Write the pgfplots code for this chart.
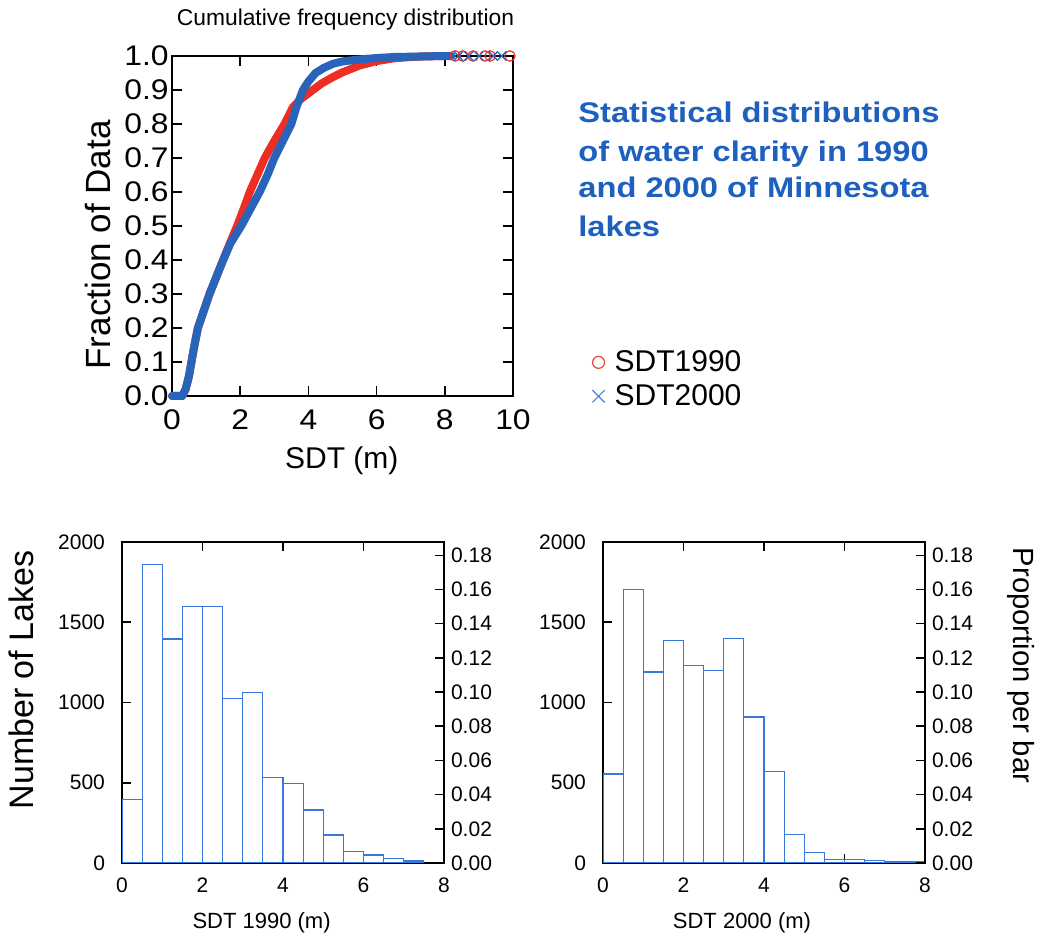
\documentclass[border=0pt]{standalone}
\usepackage{pgfplots}
\pgfplotsset{compat=1.18}
\usepackage{fontspec}
\setmainfont{Liberation Sans}
\newfontfamily\titlefont{Liberation Sans}[FakeStretch=1.15]
\newfontfamily\widefont{Liberation Sans}[FakeStretch=1.12]
\definecolor{cred}{RGB}{238,45,35}
\definecolor{cblue}{RGB}{40,100,185}
\definecolor{hblue}{RGB}{55,120,220}
\definecolor{tblue}{RGB}{30,96,192}
\definecolor{lred}{RGB}{232,70,45}
\definecolor{lblue}{RGB}{74,127,216}

\pgfplotstableread{
x y
0 0
0.3 0
0.4 0.02
0.5 0.06
0.57 0.1
0.66 0.15
0.76 0.2
0.93 0.25
1.1 0.3
1.3 0.35
1.5 0.4
1.7 0.45
1.91 0.5
2.1 0.55
2.28 0.6
2.5 0.65
2.72 0.7
3.0 0.75
3.3 0.8
3.55 0.85
3.8 0.875
4.13 0.9
4.4 0.92
4.72 0.938
5.0 0.952
5.5 0.972
6.0 0.985
6.5 0.993
7.0 0.997
7.5 0.999
8.0 1.0
}\redcdf

\pgfplotstableread{
x y
0 0
0.3 0
0.4 0.02
0.5 0.06
0.57 0.1
0.66 0.15
0.76 0.2
0.93 0.25
1.1 0.3
1.3 0.35
1.5 0.4
1.72 0.45
2.03 0.5
2.3 0.55
2.57 0.6
2.8 0.65
3.0 0.7
3.25 0.75
3.5 0.8
3.65 0.85
3.84 0.9
4.0 0.925
4.21 0.95
4.45 0.965
4.72 0.977
5.0 0.984
5.5 0.99
6.0 0.994
6.5 0.997
7.0 0.998
7.5 0.999
8.2 1.0
}\bluecdf

\pgfplotstableread{
x y
0 395
0.5 1860
1 1395
1.5 1600
2 1600
2.5 1025
3 1060
3.5 535
4 495
4.5 330
5 175
5.5 70
6 50
6.5 27
7 12
7.5 0
}\histA

\pgfplotstableread{
x y
0 555
0.5 1705
1 1190
1.5 1385
2 1230
2.5 1200
3 1400
3.5 910
4 570
4.5 178
5 65
5.5 20
6 20
6.5 15
7 10
7.5 10
8 0
}\histB

\pgfplotsset{
  common/.style={
    scale only axis,
    anchor=south west,
    tick align=inside,
    /pgf/number format/assume math mode=true,
    /pgf/number format/1000 sep={},
    axis line style={line width=0.8pt},
    tick style={black, line width=0.8pt},
  },
  histstyle/.style={
    common,
    width=161pt, height=160.5pt,
    xmin=0, xmax=8, ymin=0, ymax=2000,
    major tick length=4.5pt,
    tick label style={font=\fontsize{10.5}{12}\selectfont},
  },
  propstyle/.style={
    common,
    width=161pt, height=160.5pt,
    xmin=0, xmax=8, ymin=0, ymax=0.1878,
    axis x line=none, axis y line*=right,
    major tick length=4.5pt,
    ytick={0,0.02,0.04,0.06,0.08,0.10,0.12,0.14,0.16,0.18},
    yticklabel style={/pgf/number format/.cd,fixed,fixed zerofill,precision=2},
    tick label style={font=\fontsize{10.5}{12}\selectfont},
  },
}

\begin{document}
\begin{tikzpicture}
\useasboundingbox (0,0) rectangle (520.5pt,468.5pt);

% ---------- top CDF ----------
\begin{axis}[common,
  at={(86pt,270.5pt)},
  width=170.5pt, height=170pt,
  xmin=0, xmax=10, ymin=0, ymax=1,
  xtick={0,2,4,6,8,10},
  ytick={0,0.1,0.2,0.3,0.4,0.5,0.6,0.7,0.8,0.9,1.0},
  yticklabel style={xshift=1.8pt,/pgf/number format/.cd,fixed,fixed zerofill,precision=1},
  xticklabel style={yshift=-3.5pt},
  major tick length=5pt,
  tick label style={font=\widefont\fontsize{14.2}{16}\selectfont},
  clip=false,
  legend cell align=left,
  legend image code/.code={\draw[#1] plot coordinates {(0pt,0pt)};},
  legend style={draw=none, fill=none, inner sep=0pt,
    at={(1.232,0.049)}, anchor=west,
    font=\fontsize{15}{18}\selectfont,
    nodes={inner sep=1pt},
    row sep=3pt,
    /tikz/every odd column/.style={column sep=4pt}},
]
\addlegendimage{only marks, mark=o, mark size=3pt, lred, line width=0.6pt}
\addlegendentry{SDT1990}
\addlegendimage{only marks, mark=x, mark size=4.3pt, lblue, line width=0.6pt}
\addlegendentry{SDT2000}

\addplot[forget plot, cred, line width=4pt, line cap=round, line join=round] table[x=x,y=y] {\redcdf};
\addplot[forget plot, cblue, line width=4pt, line cap=round, line join=round] table[x=x,y=y] {\bluecdf};
\addplot[forget plot, only marks, mark=o, mark size=2.6pt, cred, line width=0.6pt] coordinates {
(8.3,1) (8.53,1) (8.83,1) (9.18,1) (9.33,1) (9.91,1)};
\addplot[forget plot, only marks, mark=x, mark size=3.2pt, cblue, line width=0.6pt] coordinates {
(8.4,1) (8.7,1) (9.0,1) (9.42,1) (9.67,1)};
\end{axis}

% ---------- bottom left histogram ----------
\begin{axis}[histstyle,
  at={(61pt,37pt)},
  xtick={0,2,4,6,8}, ytick={0,500,1000,1500,2000},
  ytick pos=left,
  yticklabel style={xshift=-5pt},
  xticklabel style={yshift=-4pt},
]
\addplot[ybar interval, draw=hblue, fill=white, line width=0.6pt] table[x=x,y=y] {\histA};
\end{axis}
\begin{axis}[propstyle, at={(61pt,37pt)}]
\end{axis}

% ---------- bottom right histogram ----------
\begin{axis}[histstyle,
  at={(301.5pt,37pt)},
  xtick={0,2,4,6,8}, ytick={0,500,1000,1500,2000},
  ytick pos=left,
  yticklabel style={xshift=-5pt},
  xticklabel style={yshift=-4pt},
]
\addplot[ybar interval, draw=hblue, fill=white, line width=0.6pt] table[x=x,y=y] {\histB};
\end{axis}
\begin{axis}[propstyle, at={(301.5pt,37pt)}]
\end{axis}

% ---------- texts ----------
\node[anchor=base, inner sep=0pt, font=\fontsize{11.4}{13}\selectfont] at (172.75pt,455.5pt) {Cumulative frequency distribution};
\node[anchor=base, inner sep=0pt, font=\fontsize{15}{18}\selectfont] at (170.9pt,234pt) {SDT (m)};
\node[anchor=base, inner sep=0pt, rotate=90, font=\fontsize{17.5}{20}\selectfont] at (55pt,346pt) {Fraction of Data};

\begin{scope}[every node/.style={anchor=base west, inner sep=0pt, text=tblue, font=\titlefont\bfseries\fontsize{14.2}{17}\selectfont}]
\node at (289pt,407pt) {Statistical distributions};
\node at (289pt,387.6pt) {of water clarity in 1990};
\node at (289pt,369.5pt) {and 2000 of Minnesota};
\node at (289pt,350.2pt) {lakes};
\end{scope}

\node[anchor=base, inner sep=0pt, rotate=90, font=\fontsize{17}{19}\selectfont] at (16.7pt,128.5pt) {Number of Lakes};
\node[anchor=base, inner sep=0pt, rotate=-90, font=\fontsize{14.6}{16}\selectfont] at (506.5pt,135.75pt) {Proportion per bar};
\node[anchor=base, inner sep=0pt, font=\fontsize{11}{13}\selectfont] at (130.8pt,4pt) {SDT 1990 (m)};
\node[anchor=base, inner sep=0pt, font=\fontsize{11}{13}\selectfont] at (371pt,4pt) {SDT 2000 (m)};
\end{tikzpicture}
\end{document}
